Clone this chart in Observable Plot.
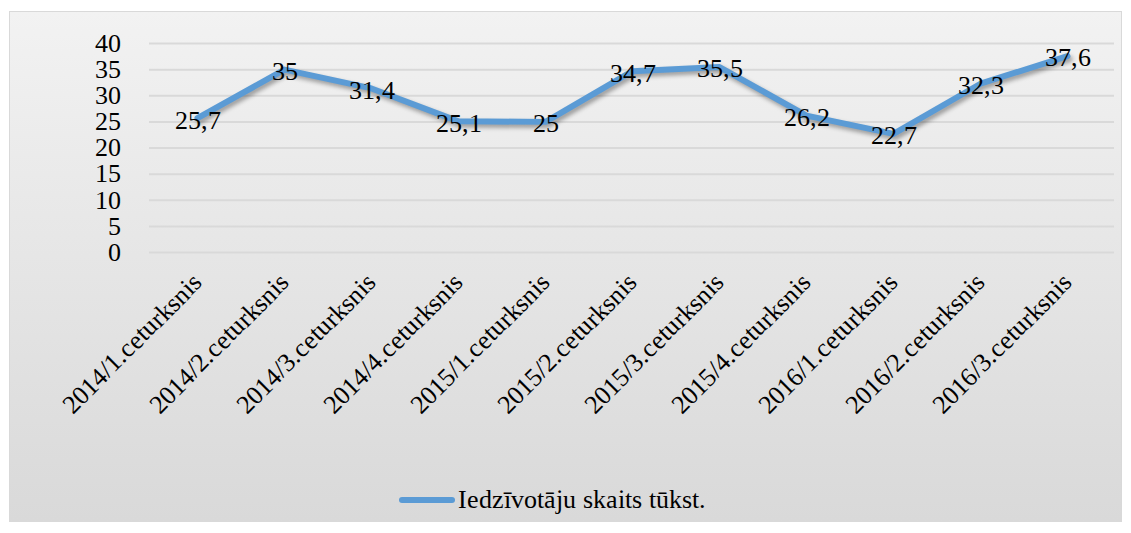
<!DOCTYPE html>
<html><head><meta charset="utf-8">
<script src="https://cdn.jsdelivr.net/npm/d3@7"></script>
<script src="https://cdn.jsdelivr.net/npm/@observablehq/plot@0.6"></script>
<style>
@font-face{font-family:'ChartSerif';src:local('Liberation Serif'),local('LiberationSerif'),local('LiberationSerif-Regular'),local('Times New Roman');}
html,body{margin:0;padding:0;background:#fff;}
#wrap{position:relative;width:1131px;height:533px;overflow:hidden;font-family:'ChartSerif','Liberation Serif',serif;}
#bg{position:absolute;left:9px;top:11px;width:1111px;height:509px;border:1px solid #d9d9d9;background:linear-gradient(#f2f2f2,#d9d9d9);}
#chart{position:absolute;left:0;top:0;}
#chart svg{background:transparent;overflow:visible;}
#chart svg text{font-family:'ChartSerif','Liberation Serif',serif;}
#chart svg g[aria-label='line'] path{filter:drop-shadow(2px 3px 2px rgba(0,0,0,0.35));}
#legend{position:absolute;left:399px;top:480px;height:40px;display:flex;align-items:center;font-size:26px;color:#000;}
#legend .sw{width:56px;height:6px;border-radius:3px;background:#5b9bd5;margin-right:3px;}
</style></head>
<body><div id="wrap"><div id="bg"></div><div id="chart"></div>
<div id="legend"><div class="sw"></div><span id="legtext"></span></div></div>
<script>
const categories = ["2014/1.ceturksnis","2014/2.ceturksnis","2014/3.ceturksnis","2014/4.ceturksnis","2015/1.ceturksnis","2015/2.ceturksnis","2015/3.ceturksnis","2015/4.ceturksnis","2016/1.ceturksnis","2016/2.ceturksnis","2016/3.ceturksnis"];
const values = [25.7, 35, 31.4, 25.1, 25, 34.7, 35.5, 26.2, 22.7, 32.3, 37.6];
const yTicks = [0,5,10,15,20,25,30,35,40];
const seriesName = "Iedzīvotāju skaits tūkst.";

document.getElementById("legtext").textContent = seriesName;
const data = categories.map((c,i)=>({c, v: values[i], label: String(values[i]).replace(".", ",")}));
const H = 475;
const chart = Plot.plot({
  width: 1131, height: H,
  marginLeft: 149, marginRight: 17, marginTop: 43, marginBottom: H - 252,
  style: {fontFamily: "ChartSerif, 'Liberation Serif', serif", fontSize: "26px", color: "#000", background: "transparent"},
  x: {type: "point", domain: categories, padding: 0.5, label: null},
  y: {domain: [0, 40], label: null},
  marks: [
    Plot.ruleY(yTicks, {stroke: "#d9d9d9", strokeWidth: 2, strokeOpacity: 1}),
    Plot.axisY({ticks: yTicks, tickSize: 0, tickPadding: 29, fontSize: 26, label: null}),
    Plot.axisX({tickSize: 0, tickRotate: -45, tickPadding: 26, fontSize: 26, label: null}),
    Plot.line(data, {x: "c", y: "v", stroke: "#5b9bd5", strokeWidth: 6, strokeLinejoin: "round", strokeLinecap: "round"}),
    Plot.text(data, {x: "c", y: "v", text: "label", fontSize: 26, fill: "#000", dy: 2})
  ]
});
document.getElementById("chart").appendChild(chart);
</script></body></html>
